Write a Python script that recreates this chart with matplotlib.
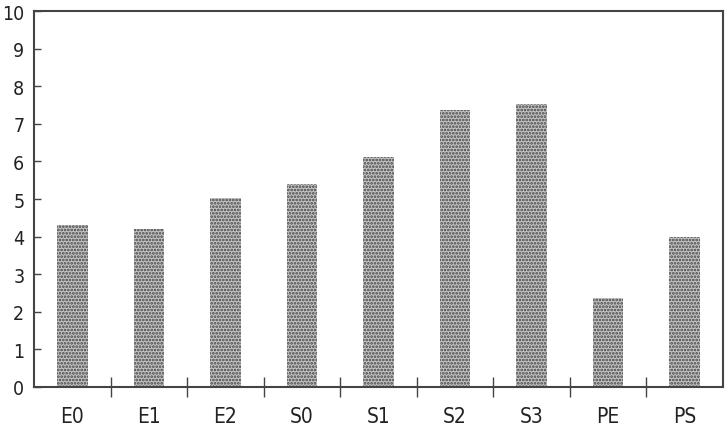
import matplotlib.pyplot as plt
import numpy as np

categories = ['E0', 'E1', 'E2', 'S0', 'S1', 'S2', 'S3', 'PE', 'PS']
values = [4.31, 4.21, 5.04, 5.41, 6.13, 7.37, 7.53, 2.38, 4.0]

plt.rcParams['font.family'] = ['DejaVu Sans']
plt.rcParams['font.stretch'] = 'condensed'
plt.rcParams['hatch.linewidth'] = 1.3
plt.rcParams['hatch.color'] = '#444444'

fig = plt.figure(figsize=(7.25, 4.31), dpi=100)
ax = fig.add_axes([0.047, 0.0998, 0.95, 0.872])

x = np.arange(len(categories))
ax.bar(x, values, width=0.4, color='#c4c4c4', hatch='.....', edgecolor='#444444', linewidth=0)

ax.set_xlim(-0.5, len(categories) - 0.5)
ax.set_ylim(0, 10)
ax.set_yticks(range(0, 11))
ax.tick_params(axis='y', direction='in', length=5, width=1, color='#444444',
               labelsize=14, pad=7, labelcolor='#222222')

ax.set_xticks(x[:-1] + 0.5)
ax.set_xticklabels([])
ax.set_xticks(x, minor=True)
ax.set_xticklabels(categories, minor=True)
ax.tick_params(axis='x', which='major', direction='inout', length=15, width=1, color='#444444')
ax.tick_params(axis='x', which='minor', length=0, labelsize=15, pad=14, labelcolor='#222222')

for s in ax.spines.values():
    s.set_linewidth(1.5)
    s.set_color('#444444')

fig.savefig('out.png', dpi=100)
